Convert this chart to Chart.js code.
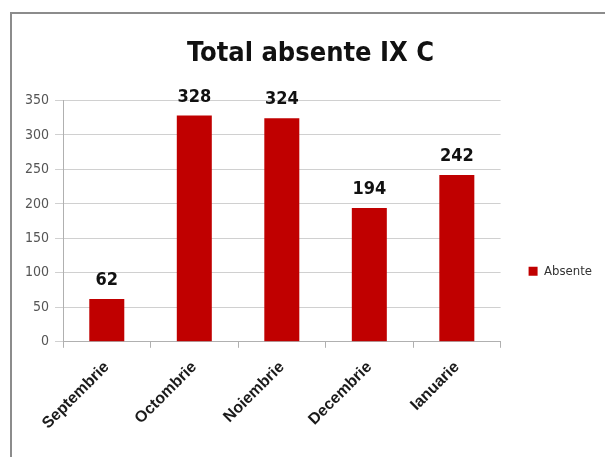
<!DOCTYPE html>
<html lang="en">
<head>
    <meta charset="utf-8">
    <script src="https://cdn.jsdelivr.net/npm/chart.js"></script>
    <style>
        html, body { margin: 0; padding: 0; background: #fff; overflow: hidden; }
        .frame {
            position: absolute; left: 10px; top: 12px;
            width: 620px; height: 460px;
            border: 2px solid #8c8c8c;
        }
        #absChart { position: absolute; left: 0; top: 0; }
    </style>
</head>
<body>
    <div class="frame"></div>
    <canvas id="absChart" width="605" height="457"></canvas>

    <script>
        // data
        const months = ['Septembrie', 'Octombrie', 'Noiembrie', 'Decembrie', 'Ianuarie'];
        const absente = [62, 328, 324, 194, 242];
        const yTicks = [0, 50, 100, 150, 200, 250, 300, 350];

        const narrow = '"Liberation Sans Narrow", "DejaVu Sans Condensed", Arial, sans-serif';

        // value labels above the bars
        const barValues = {
            id: 'barValues',
            afterDatasetsDraw(chart) {
                const ctx = chart.ctx;
                const meta = chart.getDatasetMeta(0);
                ctx.save();
                ctx.font = 'bold 18px ' + narrow;
                ctx.fillStyle = '#111';
                ctx.textAlign = 'center';
                ctx.textBaseline = 'alphabetic';
                meta.data.forEach((bar, i) => {
                    ctx.fillText(absente[i], bar.x, bar.y - 14);
                });
                ctx.restore();
            }
        };

        const ctx = document.getElementById('absChart').getContext('2d');
        new Chart(ctx, {
            type: 'bar',
            data: {
                labels: months,
                datasets: [{
                    label: 'Absente',
                    data: absente,
                    backgroundColor: '#c00000',
                    borderWidth: 0,
                    categoryPercentage: 1.0,
                    barPercentage: 0.4
                }]
            },
            options: {
                responsive: false,
                animation: false,
                layout: { padding: { left: 19, right: 3, top: 0, bottom: 14 } },
                plugins: {
                    title: {
                        display: true,
                        text: 'Total absente IX C',
                        color: '#111',
                        font: { family: narrow, size: 27, weight: 'bold' },
                        padding: { top: 38, bottom: 30 }
                    },
                    legend: {
                        position: 'right',
                        title: { display: true, text: ' ', font: { size: 2 }, padding: { top: 97, bottom: 0 } },
                        labels: {
                            boxWidth: 9, boxHeight: 9,
                            color: '#333',
                            font: { family: narrow, size: 13 },
                            padding: 28
                        }
                    },
                    tooltip: { enabled: false }
                },
                scales: {
                    y: {
                        min: 0, max: 350,
                        afterBuildTicks(axis) { axis.ticks = yTicks.map(v => ({ value: v })); },
                        ticks: { color: '#555', font: { family: narrow, size: 14 }, padding: 6 },
                        grid: { color: '#d0d0d0', tickLength: 8 },
                        border: { color: '#b0b0b0' }
                    },
                    x: {
                        ticks: {
                            color: '#1a1a1a', maxRotation: 45, minRotation: 45, padding: 10,
                            font: { family: 'Arial, "Liberation Sans", sans-serif', size: 16, weight: 'bold' }
                        },
                        grid: { display: true, drawOnChartArea: false, color: '#b0b0b0', tickLength: 6, offset: true },
                        border: { color: '#b0b0b0' }
                    }
                }
            },
            plugins: [barValues]
        });
    </script>
</body>
</html>
